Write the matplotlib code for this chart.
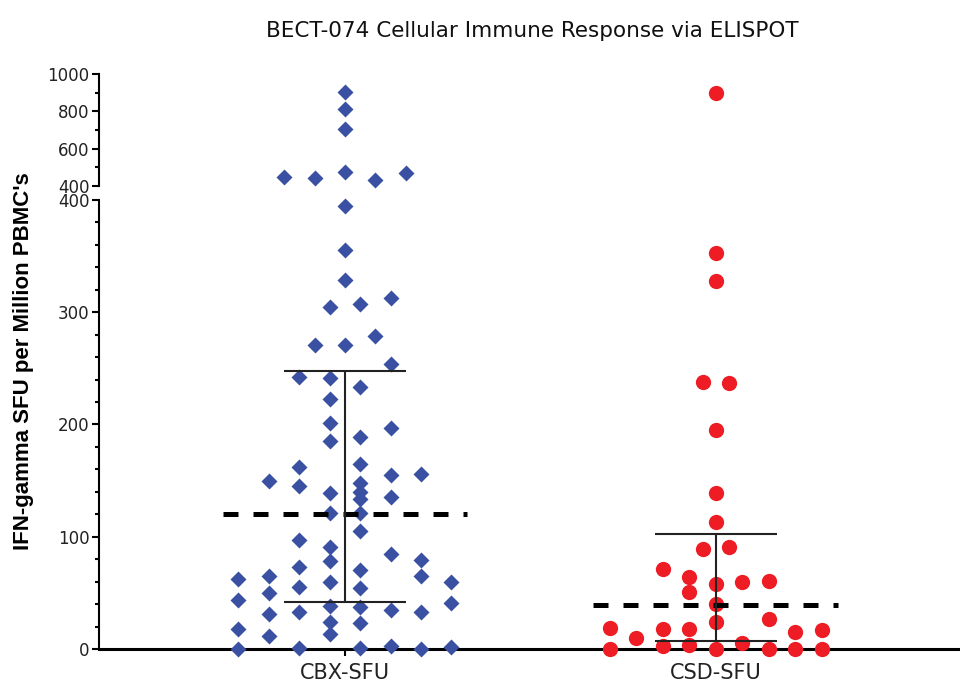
import numpy as np
import matplotlib as mpl
mpl.use("Agg")
import matplotlib.pyplot as plt
from matplotlib.ticker import MultipleLocator

plt.rcParams['font.family'] = ['DejaVu Sans']

# values, with the column slot each dot sits in
groups = ['CBX-SFU', 'CSD-SFU']
cbx_values = [905, 811, 704, 447, 444, 475, 432, 471,
              395, 355, 329, 305, 307, 313, 271, 271, 279, 254,
              242, 241, 233, 223, 201, 197, 185, 189, 162, 165,
              150, 145, 155, 156, 139, 148, 140, 134, 135,
              121, 121, 105, 97, 91, 78, 85, 79, 73,
              65, 62, 65, 60, 70, 60, 55, 54,
              50, 44, 41, 38, 37, 31, 33, 35, 33,
              24, 23, 18, 12, 13, 0, 1, 1, 3, 0, 2]
cbx_slots = [0, 0, 0, -2, -1, 0, 1, 2,
             0, 0, 0, -0.5, 0.5, 1.5, -1, 0, 1, 1.5,
             -1.5, -0.5, 0.5, -0.5, -0.5, 1.5, -0.5, 0.5, -1.5, 0.5,
             -2.5, -1.5, 1.5, 2.5, -0.5, 0.5, 0.5, 0.5, 1.5,
             -0.5, 0.5, 0.5, -1.5, -0.5, -0.5, 1.5, 2.5, -1.5,
             2.5, -3.5, -2.5, -0.5, 0.5, 3.5, -1.5, 0.5,
             -2.5, -3.5, 3.5, -0.5, 0.5, -2.5, -1.5, 1.5, 2.5,
             -0.5, 0.5, -3.5, -2.5, -0.5, -3.5, -1.5, 0.5, 1.5, 2.5, 3.5]
csd_values = [900, 353, 328, 238, 237, 195, 139, 113, 89, 91,
              71, 64, 51, 58, 60, 61, 40, 24, 27,
              19, 10, 18, 18, 15, 17, 5, 3, 4,
              0, 0, 0, 0, 0]
csd_slots = [0, 0, 0, -0.5, 0.5, 0, 0, 0, -0.5, 0.5,
             -2, -1, -1, 0, 1, 2, 0, 0, 2,
             -4, -3, -2, -1, 3, 4, 1, -2, -1,
             -4, 0, 2, 3, 4]
centers = [120, 39.5]
err_low = [42, 7.4]
err_high = [248, 102.5]

slot_width = [0.082, 0.0714]
colors = ['#3a51a3', '#ee1d25']
markers = ['D', 'o']
msizes = [8.3, 11]
split = 400

fig = plt.figure(figsize=(9.6, 6.82), dpi=100)
ax_top = fig.add_axes([0.1031, 0.7273, 0.8969, 0.1642])
ax = fig.add_axes([0.1031, 0.0484, 0.8969, 0.6584])

for i, (vals, slots) in enumerate([(cbx_values, cbx_slots), (csd_values, csd_slots)]):
    vals = np.array(vals, dtype=float)
    xs = (i + 1) + np.array(slots) * slot_width[i]
    low = vals <= split
    ax.plot(xs[low], vals[low], linestyle='none', marker=markers[i], ms=msizes[i],
            color=colors[i], mec='none', clip_on=False, zorder=3)
    ax_top.plot(xs[~low], vals[~low], linestyle='none', marker=markers[i], ms=msizes[i],
                color=colors[i], mec='none', clip_on=False, zorder=3)
    # centre line and whiskers
    ax.hlines(centers[i], i + 1 - 0.33, i + 1 + 0.33, color='black', lw=3.6,
              linestyles=(0, (3.0, 3.0)), zorder=4)
    ax.vlines(i + 1, err_low[i], err_high[i], color='#222222', lw=1.5, zorder=4)
    ax.hlines([err_low[i], err_high[i]], i + 1 - 0.165, i + 1 + 0.165,
              color='#222222', lw=1.5, zorder=4)

for a in (ax, ax_top):
    a.set_xlim(0.337, 2.658)
    a.spines['top'].set_visible(False)
    a.spines['right'].set_visible(False)
    a.spines['left'].set_linewidth(1.5)
    a.tick_params(axis='y', which='major', length=5, width=1.5, labelsize=12,
                  pad=2, labelcolor='#222222')
    a.tick_params(axis='y', which='minor', length=3, width=1.5)

ax.set_ylim(0, 400)
ax.yaxis.set_major_locator(MultipleLocator(100))
ax.yaxis.set_minor_locator(MultipleLocator(20))
ax.spines['bottom'].set_linewidth(2.2)
ax.set_xticks([1, 2])
ax.set_xticklabels(groups, fontsize=15, color='#222222')
ax.tick_params(axis='x', length=5, width=1.5, pad=5)

ax_top.set_ylim(400, 1000)
ax_top.yaxis.set_major_locator(MultipleLocator(200))
ax_top.yaxis.set_minor_locator(MultipleLocator(100))
ax_top.spines['bottom'].set_visible(False)
ax_top.set_xticks([])

fig.text(0.554, 0.955, 'BECT-074 Cellular Immune Response via ELISPOT',
         ha='center', va='center', fontsize=15.5, color='#111111')
fig.text(0.025, 0.47, "IFN-gamma SFU per Million PBMC's", rotation=90,
         ha='center', va='center', fontsize=16, fontweight='bold',
         family='Liberation Sans')

fig.savefig('out.png', dpi=100)
